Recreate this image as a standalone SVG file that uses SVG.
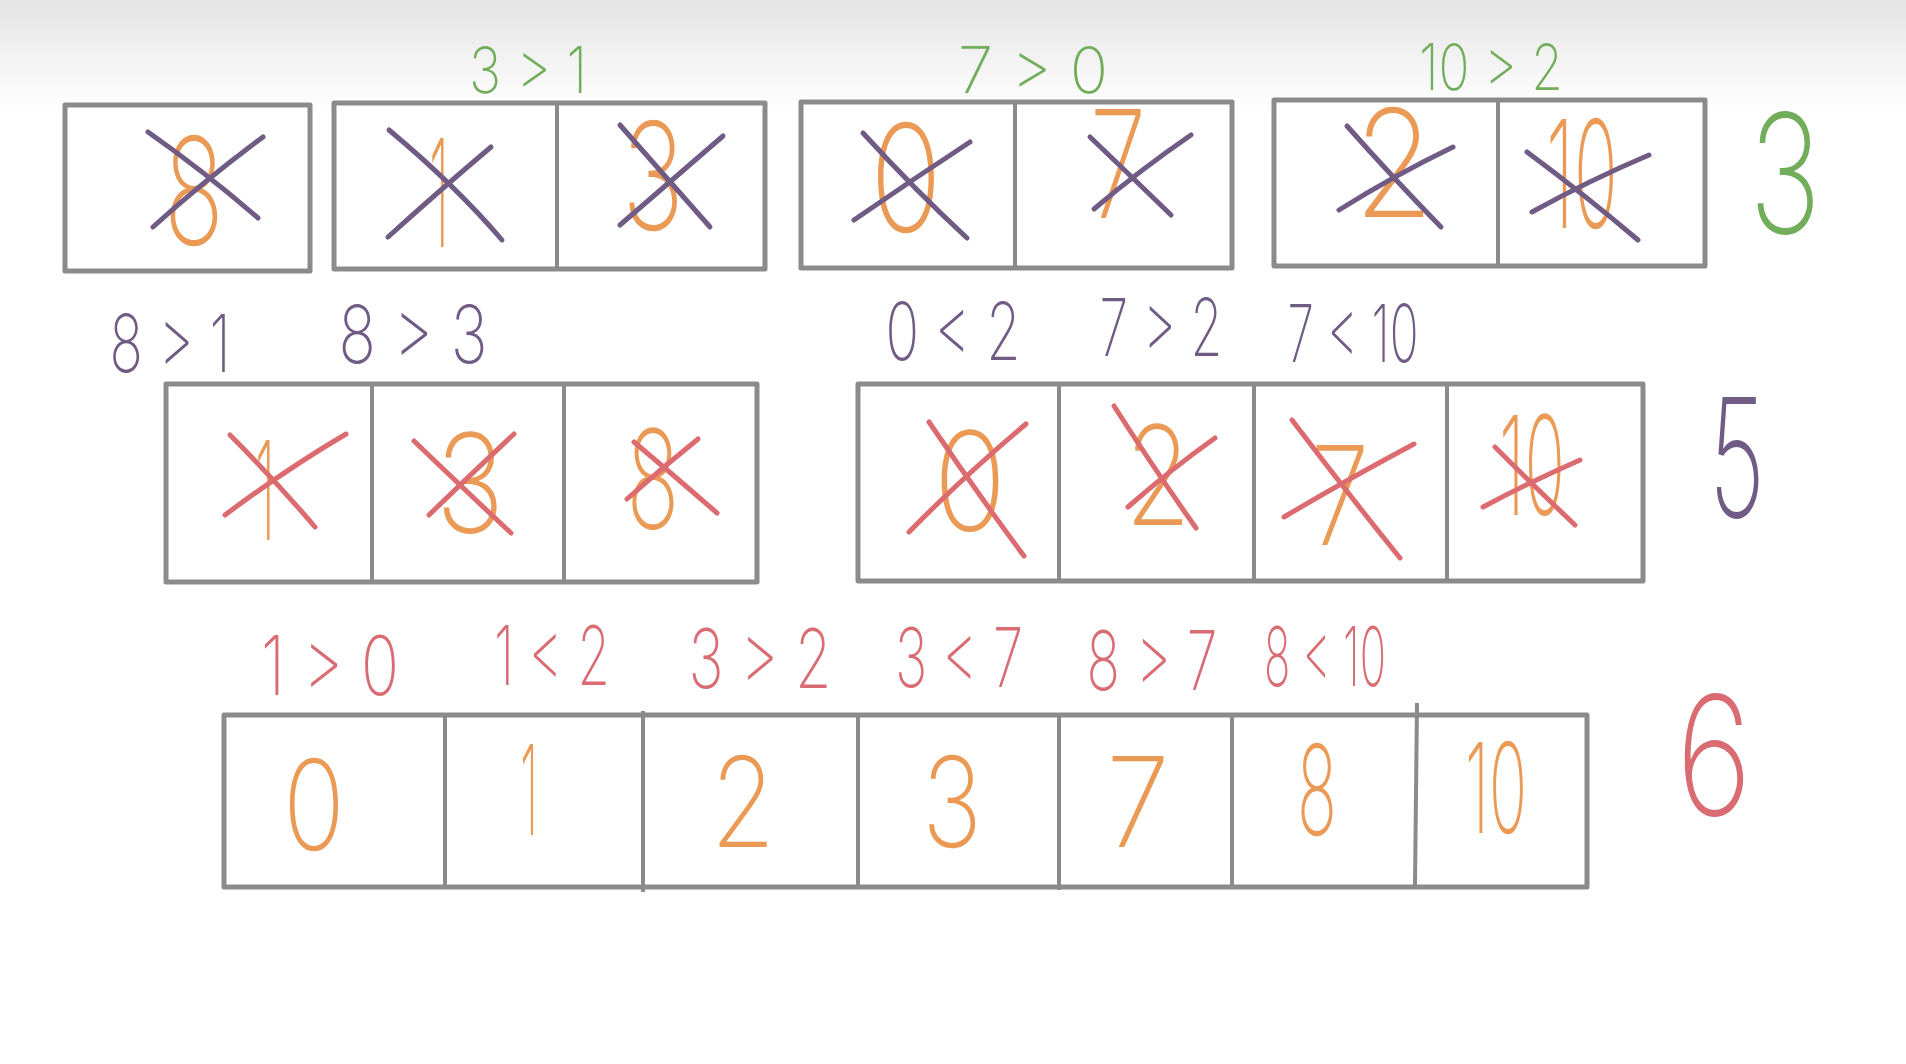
<svg xmlns="http://www.w3.org/2000/svg" width="1906" height="1064" viewBox="0 0 1906 1064">
<defs>
<linearGradient id="topshade" x1="0" y1="0" x2="0" y2="1">
<stop offset="0" stop-color="#e4e4e4"/>
<stop offset="1" stop-color="#ffffff"/>
</linearGradient>
<style>
.box{fill:#ffffff;stroke:#8b8b8b;stroke-width:5;stroke-linejoin:round}
.div{stroke:#8b8b8b;stroke-width:4;fill:none}
.t{font-family:"Inter","Lato","Open Sans","DejaVu Sans",sans-serif;font-weight:200;text-anchor:middle}
.or{fill:#eb9a55}
.gr{fill:#72ad5b}
.pu{fill:#6f5b83}
.rd{fill:#d96b73}
.xp{stroke:#6f5b83;stroke-width:5;fill:none;stroke-linecap:round}
.xr{stroke:#dc6b70;stroke-width:5;fill:none;stroke-linecap:round}
.d1{font-size:150px}
.d2{font-size:138px}
.d3{font-size:125px}
.l1{font-size:64px}
.l2{font-size:80px}
.l3{font-size:82px}
.big{font-size:165px}
</style>
</defs>
<rect x="0" y="0" width="1906" height="1064" fill="#ffffff"/>
<rect x="0" y="0" width="1906" height="110" fill="url(#topshade)"/>

<!-- Row 1 -->
<g id="r1-a">
<rect class="box" x="65" y="105" width="245" height="166"/>
<text class="t d1 or" x="194" y="245" textLength="60" lengthAdjust="spacingAndGlyphs">8</text>
<path class="xp" d="M148,132 Q205,172 258,218 M153,227 Q205,180 263,137"/>
</g>
<g id="r1-b">
<rect class="box" x="334" y="103" width="431" height="166"/>
<line class="div" x1="557" y1="103" x2="557" y2="269"/>
<text class="t d1 or" x="439" y="247" textLength="20" lengthAdjust="spacingAndGlyphs">1</text>
<text class="t d1 or" x="653" y="230" textLength="62" lengthAdjust="spacingAndGlyphs">3</text>
<path class="xp" d="M389,130 Q455,185 502,240 M388,237 Q440,190 491,147"/>
<path class="xp" d="M620,125 L710,227 M620,225 L723,136"/>
</g>
<g id="r1-c">
<rect class="box" x="801" y="102" width="431" height="166"/>
<line class="div" x1="1015" y1="102" x2="1015" y2="268"/>
<text class="t d1 or" x="906" y="232" textLength="72" lengthAdjust="spacingAndGlyphs">0</text>
<text class="t d1 or" x="1118" y="218" textLength="57" lengthAdjust="spacingAndGlyphs">7</text>
<path class="xp" d="M863,133 Q915,190 967,238 M854,220 Q912,180 970,142"/>
<path class="xp" d="M1090,137 Q1135,180 1171,215 M1094,209 Q1140,170 1191,135"/>
</g>
<g id="r1-d">
<rect class="box" x="1274" y="100" width="431" height="166"/>
<line class="div" x1="1498" y1="100" x2="1498" y2="266"/>
<text class="t d1 or" x="1394" y="217" textLength="80" lengthAdjust="spacingAndGlyphs">2</text>
<text class="t d1 or" x="1582" y="228" textLength="72" lengthAdjust="spacingAndGlyphs">10</text>
<path class="xp" d="M1347,126 Q1395,180 1441,227 M1339,210 Q1395,175 1453,147"/>
<path class="xp" d="M1527,152 Q1585,195 1638,240 M1532,212 Q1590,180 1649,155"/>
</g>
<g id="r1-labels">
<text class="t l1 gr" x="528" y="93" textLength="118" lengthAdjust="spacingAndGlyphs">3 &gt; 1</text>
<text class="t l1 gr" x="1033" y="93" textLength="150" lengthAdjust="spacingAndGlyphs">7 &gt; 0</text>
<text class="t l1 gr" x="1491" y="90" textLength="144" lengthAdjust="spacingAndGlyphs">10 &gt; 2</text>
</g>
<g id="step-3">
<text class="t big gr" x="1785" y="233" textLength="72" lengthAdjust="spacingAndGlyphs">3</text>
</g>

<!-- Row 2 -->
<g id="r2-labels">
<text class="t l2 pu" x="170" y="372" textLength="121" lengthAdjust="spacingAndGlyphs">8 &gt; 1</text>
<text class="t l2 pu" x="413" y="363" textLength="149" lengthAdjust="spacingAndGlyphs">8 &gt; 3</text>
<text class="t l2 pu" x="953" y="360" textLength="135" lengthAdjust="spacingAndGlyphs">0 &lt; 2</text>
<text class="t l2 pu" x="1161" y="356" textLength="123" lengthAdjust="spacingAndGlyphs">7 &gt; 2</text>
<text class="t l2 pu" x="1353" y="362" textLength="131" lengthAdjust="spacingAndGlyphs">7 &lt; 10</text>
</g>
<g id="r2-e">
<rect class="box" x="166" y="384" width="591" height="198"/>
<line class="div" x1="372" y1="384" x2="372" y2="582"/>
<line class="div" x1="564" y1="384" x2="564" y2="582"/>
<text class="t d2 or" x="265" y="540" textLength="20" lengthAdjust="spacingAndGlyphs">1</text>
<text class="t d2 or" x="470" y="533" textLength="69" lengthAdjust="spacingAndGlyphs">3</text>
<text class="t d2 or" x="653" y="529" textLength="53" lengthAdjust="spacingAndGlyphs">8</text>
<path class="xr" d="M230,435 Q275,480 315,527 M225,515 Q285,470 346,434"/>
<path class="xr" d="M414,441 Q465,490 511,533 M429,515 Q470,475 514,434"/>
<path class="xr" d="M634,442 Q677,478 717,513 M627,499 Q662,468 698,439"/>
</g>
<g id="r2-f">
<rect class="box" x="858" y="384" width="785" height="197"/>
<line class="div" x1="1059" y1="384" x2="1059" y2="582"/>
<line class="div" x1="1254" y1="384" x2="1254" y2="582"/>
<line class="div" x1="1447" y1="384" x2="1447" y2="581"/>
<text class="t d2 or" x="970" y="531" textLength="73" lengthAdjust="spacingAndGlyphs">0</text>
<text class="t d2 or" x="1158" y="525" textLength="66" lengthAdjust="spacingAndGlyphs">2</text>
<text class="t d2 or" x="1340" y="545" textLength="59" lengthAdjust="spacingAndGlyphs">7</text>
<text class="t d2 or" x="1532" y="515" textLength="66" lengthAdjust="spacingAndGlyphs">10</text>
<path class="xr" d="M929,422 Q975,490 1024,556 M909,532 Q965,475 1026,424"/>
<path class="xr" d="M1114,406 Q1155,470 1196,528 M1128,507 Q1170,470 1215,438"/>
<path class="xr" d="M1292,420 Q1345,490 1400,558 M1284,517 Q1350,478 1414,444"/>
<path class="xr" d="M1495,447 Q1535,487 1575,525 M1483,507 Q1530,482 1580,460"/>
</g>
<g id="step-5">
<text class="t big pu" x="1737" y="517" textLength="56" lengthAdjust="spacingAndGlyphs">5</text>
</g>

<!-- Row 3 -->
<g id="r3-labels">
<text class="t l3 rd" x="330" y="695" textLength="138" lengthAdjust="spacingAndGlyphs">1 &gt; 0</text>
<text class="t l3 rd" x="552" y="685" textLength="116" lengthAdjust="spacingAndGlyphs">1 &lt; 2</text>
<text class="t l3 rd" x="760" y="688" textLength="143" lengthAdjust="spacingAndGlyphs">3 &gt; 2</text>
<text class="t l3 rd" x="959" y="687" textLength="128" lengthAdjust="spacingAndGlyphs">3 &lt; 7</text>
<text class="t l3 rd" x="1152" y="690" textLength="131" lengthAdjust="spacingAndGlyphs">8 &gt; 7</text>
<text class="t l3 rd" x="1325" y="686" textLength="122" lengthAdjust="spacingAndGlyphs">8 &lt; 10</text>
</g>
<g id="r3-g">
<rect class="box" x="224" y="715" width="1363" height="172"/>
<line class="div" x1="445" y1="715" x2="445" y2="887"/>
<line class="div" x1="643" y1="711" x2="643" y2="892"/>
<line class="div" x1="858" y1="715" x2="858" y2="887"/>
<line class="div" x1="1059" y1="715" x2="1059" y2="890"/>
<line class="div" x1="1232" y1="715" x2="1232" y2="887"/>
<line class="div" x1="1417" y1="703" x2="1415" y2="885"/>
<text class="t d3 or" x="314" y="850" textLength="62" lengthAdjust="spacingAndGlyphs">0</text>
<text class="t d3 or" x="529" y="835" textLength="18" lengthAdjust="spacingAndGlyphs">1</text>
<text class="t d3 or" x="743" y="847" textLength="65" lengthAdjust="spacingAndGlyphs">2</text>
<text class="t d3 or" x="952" y="847" textLength="60" lengthAdjust="spacingAndGlyphs">3</text>
<text class="t d3 or" x="1138" y="847" textLength="64" lengthAdjust="spacingAndGlyphs">7</text>
<text class="t d3 or" x="1317" y="835" textLength="40" lengthAdjust="spacingAndGlyphs">8</text>
<text class="t d3 or" x="1496" y="833" textLength="62" lengthAdjust="spacingAndGlyphs">10</text>
</g>
<g id="step-6">
<text class="t big rd" x="1714" y="815" textLength="76" lengthAdjust="spacingAndGlyphs">6</text>
</g>
</svg>
